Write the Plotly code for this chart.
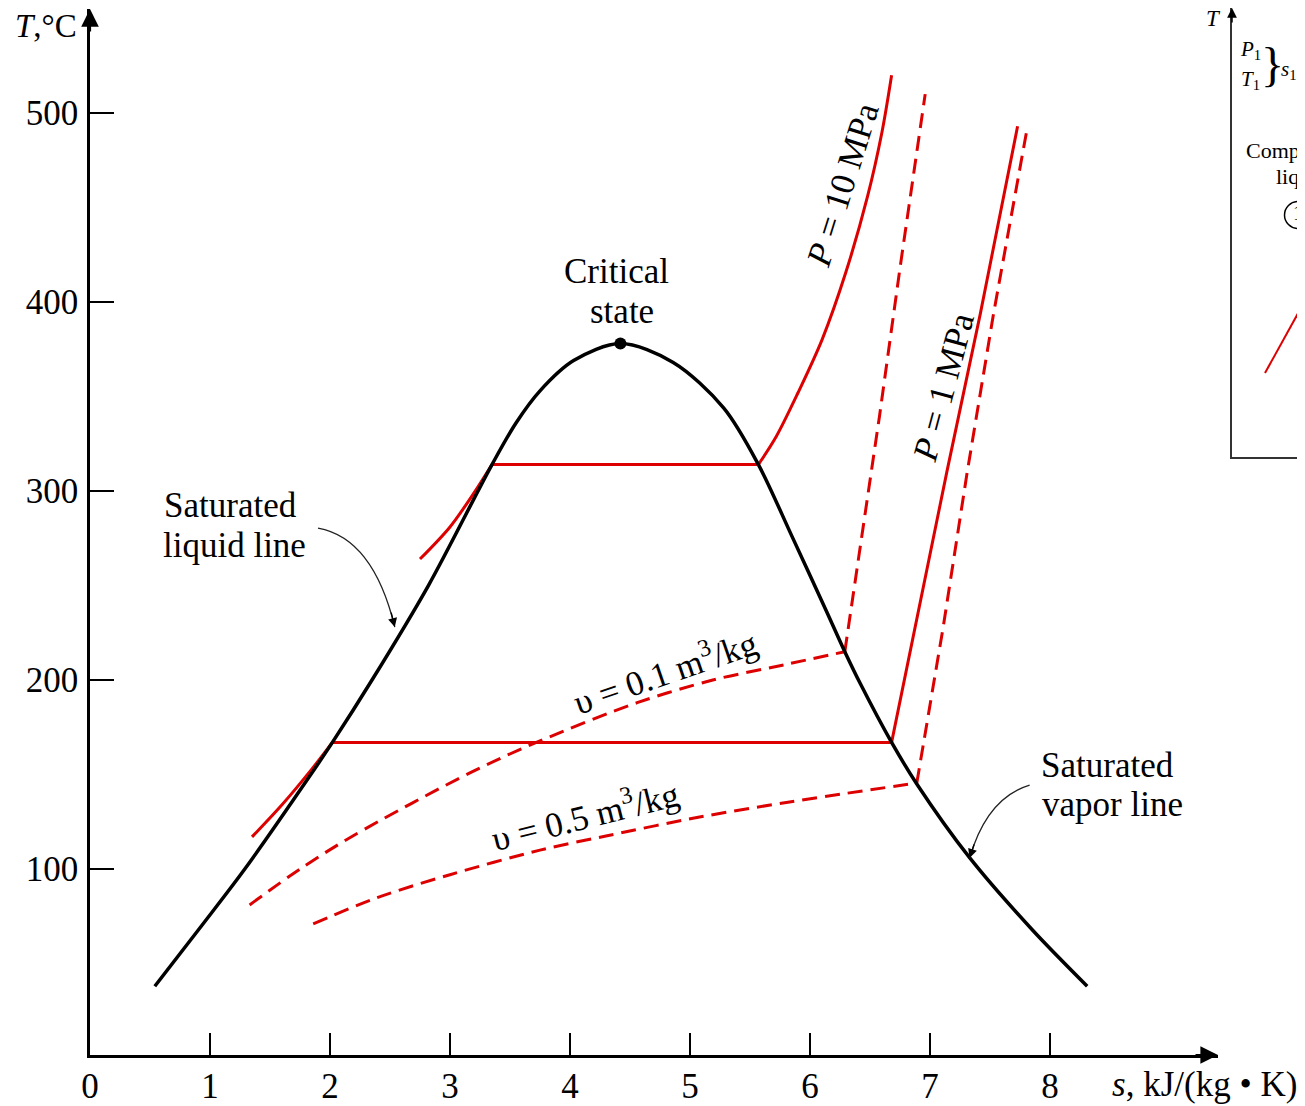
import plotly.graph_objects as go

# ---------------- data ----------------
dome_s = [0.54, 0.93, 1.29, 1.84, 2.02, 2.35, 2.82, 3.35, 3.55, 3.75, 4.03, 4.42,
          4.86, 5.28, 5.57, 5.85, 6.14, 6.29, 6.42, 6.68, 6.89, 7.33, 7.85, 8.31]
dome_T = [38, 70, 100, 150, 167, 200, 250, 314, 336, 353, 369, 378,
          368, 344, 314, 276, 236, 215, 198, 167, 145, 106, 68, 38]

crit_s = [4.42]
crit_T = [378]

# P = 10 MPa
p10_liq_s = [2.75, 3.00, 3.20, 3.35]
p10_liq_T = [264, 281, 299, 314]
p10_sat_s = [3.35, 5.57]
p10_sat_T = [314, 314]
p10_sup_s = [5.57, 5.72, 5.90, 6.10, 6.30, 6.48, 6.60, 6.68]
p10_sup_T = [314, 329, 352, 380, 416, 456, 490, 520]

# P = 1 MPa
p1_liq_s = [1.35, 1.60, 1.85, 2.02]
p1_liq_T = [117, 134, 153, 167]
p1_sat_s = [2.02, 6.68]
p1_sat_T = [167, 167]
p1_sup_s = [6.68, 6.89, 7.14, 7.42, 7.73]
p1_sup_T = [167, 232, 310, 394, 493]

# v = 0.1 m3/kg
v01_wet_s = [1.33, 1.75, 2.19, 3.17, 3.72, 4.56, 5.19, 5.78, 6.29]
v01_wet_T = [81, 100, 117.5, 151, 167, 188, 200, 208, 215]
v01_sup_s = [6.29, 6.43, 6.58, 6.75, 6.96]
v01_sup_T = [215, 275, 340, 418, 510]

# v = 0.5 m3/kg
v05_wet_s = [1.86, 2.40, 3.00, 3.75, 4.30, 5.08, 5.83, 6.89]
v05_wet_T = [71, 85, 97, 110, 117.5, 127.5, 135.5, 145.5]
v05_sup_s = [6.89, 7.11, 7.31, 7.53, 7.81]
v05_sup_T = [145.5, 228, 310, 394, 492]

x_ticks = [0, 1, 2, 3, 4, 5, 6, 7, 8]
y_ticks = [100, 200, 300, 400, 500]

# inset (partially visible second diagram)
inset_line_x = [0.33, 0.50, 0.75]
inset_line_y = [0.84, 1.15, 1.60]

# leader curves (start, control, tip) for the label arrows
liq_leader = [(1.90, 280.4), (2.36, 275.1), (2.54, 228.0)]
vap_leader = [(7.83, 144.4), (7.475, 137.6), (7.33, 105.8)]

# ---------------- styling ----------------
FONT = "Liberation Serif"
RED = "#dd0000"
FS = 35
W, H = 1297, 1098          # page has an 8px body margin
L, B = 82, 51
PW, PH = W - L, H - B      # paper size in px
Y0 = 1.6                   # temperature at the s-axis line
YTOP = 555

fig = go.Figure()


def line(xs, ys, color=RED, width=3, dash=None, shape="spline", xaxis="x", yaxis="y"):
    fig.add_trace(go.Scatter(x=xs, y=ys, mode="lines",
                             line=dict(color=color, width=width, dash=dash, shape=shape,
                                       smoothing=0.9),
                             xaxis=xaxis, yaxis=yaxis, hoverinfo="skip", showlegend=False))


DASH = "15px,8px"
# dashed constant-volume lines
line(v01_wet_s, v01_wet_T, dash=DASH)
line(v01_sup_s, v01_sup_T, dash=DASH, shape="linear")
line(v05_wet_s, v05_wet_T, dash=DASH)
line(v05_sup_s, v05_sup_T, dash=DASH, shape="linear")
# constant-pressure lines
line(p10_liq_s, p10_liq_T)
line(p10_sat_s, p10_sat_T, shape="linear")
line(p10_sup_s, p10_sup_T)
line(p1_liq_s, p1_liq_T)
line(p1_sat_s, p1_sat_T, shape="linear")
line(p1_sup_s, p1_sup_T, shape="linear")
# saturation dome
line(dome_s, dome_T, color="black", width=3.5)
fig.add_trace(go.Scatter(x=crit_s, y=crit_T, mode="markers",
                         marker=dict(color="black", size=12),
                         hoverinfo="skip", showlegend=False))

# inset
line(inset_line_x, inset_line_y, width=2, shape="linear", xaxis="x2", yaxis="y2")
fig.add_trace(go.Scatter(x=[0.66], y=[2.42], mode="markers+text", text=["1"],
                         textposition="middle center",
                         textfont=dict(family=FONT, size=20, color="black"),
                         marker=dict(symbol="circle-open", size=27, color="black",
                                     line=dict(width=1.5)),
                         xaxis="x2", yaxis="y2", hoverinfo="skip", showlegend=False))

ann = []


def text(x, y, t, size=FS, angle=0, xanchor="center", yanchor="middle", xref="x", yref="y"):
    ann.append(dict(x=x, y=y, text=t, showarrow=False, textangle=angle,
                    xanchor=xanchor, yanchor=yanchor, xref=xref, yref=yref,
                    font=dict(family=FONT, size=size, color="black")))


text(4.39, 416, "Critical")
text(4.43, 395, "state")
text(1.17, 292.6, "Saturated")
text(1.20, 271.4, "liquid line")
text(8.48, 155, "Saturated")
text(8.52, 133.9, "vapor line")
text(6.275, 462, "<i>P</i> = 10 MPa", angle=-72.5)
text(7.11, 355, "<i>P</i> = 1 MPa", angle=-75)
text(4.79, 205, "υ = 0.1 m<sup>3</sup>/kg", angle=-18.9)
text(4.12, 129, "υ = 0.5 m<sup>3</sup>/kg", angle=-14)
text((5 - L) / PW, (PH - 18) / PH, "<i>T</i>,°C", size=33, xanchor="left",
     xref="paper", yref="paper")
ann.append(dict(x=8.5, y=0, xref="x", yref="paper", text="<i>s</i>, kJ/(kg • K)",
                showarrow=False, xanchor="left", yanchor="middle", yshift=-29,
                font=dict(family=FONT, size=FS, color="black")))

# inset texts
text((1205 - L) / PW, (PH - 10) / PH, "<i>T</i>", size=23, xref="paper", yref="paper")
text(0.185, 4.07, "<i>P</i><sub>1</sub>", size=21, xref="x2", yref="y2")
text(0.185, 3.77, "<i>T</i><sub>1</sub>", size=21, xref="x2", yref="y2")
text(0.40, 3.93, "}", size=48, xref="x2", yref="y2")
text(0.57, 3.87, "<i>s</i><sub>1</sub>", size=21, xref="x2", yref="y2")
text(0.12, 3.07, "Compressed", size=22, xanchor="left", xref="x2", yref="y2")
text(0.42, 2.81, "liquid", size=22, xanchor="left", xref="x2", yref="y2")

# axis arrowheads
ann.append(dict(x=9.4, y=Y0, xref="x", yref="y", ax=-24, ay=0, text="", showarrow=True,
                arrowhead=2, arrowsize=1.6, arrowwidth=2.2, arrowcolor="black"))
ann.append(dict(x=0, y=YTOP, xref="x", yref="y", ax=0, ay=24, text="", showarrow=True,
                arrowhead=2, arrowsize=1.6, arrowwidth=2.2, arrowcolor="black"))
ann.append(dict(x=0, y=4.49, xref="x2", yref="y2", ax=0, ay=16, text="", showarrow=True,
                arrowhead=2, arrowsize=1.3, arrowwidth=1.5, arrowcolor="black"))

# leader arrows
shapes = []
for lead, (ax_, ay_) in ((liq_leader, (-4, -16)), (vap_leader, (5, -15))):
    (x0, y0), (xc, yc), (x1, y1) = lead
    shapes.append(dict(type="path", xref="x", yref="y",
                       path=f"M {x0},{y0} Q {xc},{yc} {x1},{y1}",
                       line=dict(color="#222222", width=1.3)))
    ann.append(dict(x=x1, y=y1, xref="x", yref="y", ax=ax_, ay=ay_, text="",
                    showarrow=True, arrowhead=2, arrowsize=1.3, arrowwidth=1.4,
                    arrowcolor="black"))

fig.update_layout(
    width=W, height=H,
    margin=dict(l=L, r=0, t=0, b=B, autoexpand=False),
    paper_bgcolor="white", plot_bgcolor="white",
    showlegend=False,
    annotations=ann, shapes=shapes,
    xaxis=dict(domain=[0, 1128 / PW], range=[0, 9.4], tickvals=x_ticks,
               ticktext=[str(v) for v in x_ticks], automargin=False,
               ticks="inside", ticklen=22, tickwidth=2, tickcolor="black",
               showline=True, linewidth=2.5, linecolor="black",
               showgrid=False, zeroline=False, ticklabelstandoff=-2,
               tickfont=dict(family=FONT, size=FS, color="black"), anchor="y"),
    yaxis=dict(domain=[0, (YTOP - Y0) * 1.89 / PH], range=[Y0, YTOP], tickvals=y_ticks,
               ticktext=[str(v) for v in y_ticks], automargin=False,
               ticks="inside", ticklen=24, tickwidth=2, tickcolor="black",
               showline=True, linewidth=2.5, linecolor="black",
               showgrid=False, zeroline=False, ticklabelstandoff=2,
               tickfont=dict(family=FONT, size=FS, color="black"), anchor="x"),
    xaxis2=dict(domain=[(1224 - L) / PW, 1], range=[0, 0.73], showline=True,
                linewidth=1.5, linecolor="#333333", showgrid=False, zeroline=False,
                showticklabels=False, ticks="", anchor="y2", automargin=False),
    yaxis2=dict(domain=[(PH - 449) / PH, 1], range=[0, 4.49],
                showline=True, linewidth=1.5, linecolor="#333333", showgrid=False,
                zeroline=False, showticklabels=False, ticks="", anchor="x2",
                automargin=False),
)

fig.write_html("out.html")
